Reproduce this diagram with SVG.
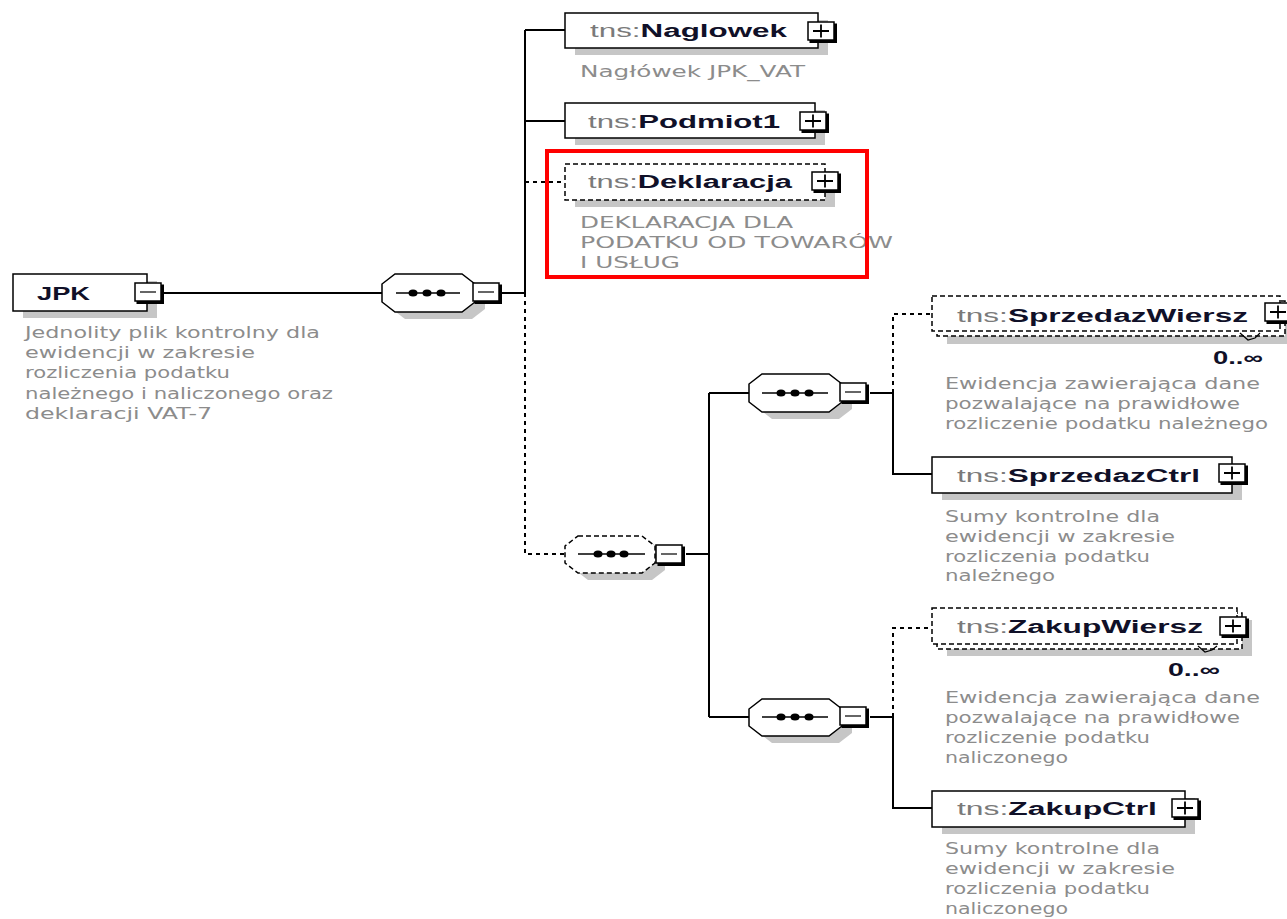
<svg xmlns="http://www.w3.org/2000/svg" width="1287" height="919" viewBox="0 0 1287 919">
<style>
.bg{fill:#fff}
.box{fill:#fff;stroke:#000;stroke-width:1.5}
.dbox{fill:#fff;stroke:#000;stroke-width:1.5;stroke-dasharray:5 3}
.shadow{fill:#c6c6c6}
.conn{fill:none;stroke:#000;stroke-width:2}
.dash{stroke-dasharray:4 4}
.title{font-family:"Liberation Sans",Arial,sans-serif;font-size:18px;font-weight:bold;fill:#101028}
.pfx{font-weight:normal;fill:#7a7a7a}
.desc{font-family:"DejaVu Sans",Verdana,sans-serif;font-size:15px;fill:#8c8c8c}
.mult{font-family:"Liberation Sans",Arial,sans-serif;font-size:18px;font-weight:bold;fill:#101028}
.hl{fill:none;stroke:#ff0000;stroke-width:4}
.inner{stroke:#000;stroke-width:1.5;fill:none}
</style>
<defs>
<g id="minus">
<rect x="0" y="0" width="26" height="18" fill="#fff" stroke="#000" stroke-width="1.5"/>
<path d="M27.5,1.5 V19.5 H1.5" fill="none" stroke="#000" stroke-width="3"/>
<path d="M5,9 H21" stroke="#333" stroke-width="1.5"/>
</g>
<g id="plus">
<rect x="0" y="0" width="26" height="18" fill="#fff" stroke="#000" stroke-width="1.5"/>
<path d="M27.5,1.5 V19.5 H1.5" fill="none" stroke="#000" stroke-width="3"/>
<path d="M5,9 H21 M13,2.5 V15.5" stroke="#000" stroke-width="1.8"/>
</g>
</defs>
<rect class="bg" x="0" y="0" width="1287" height="919"/>

<g id="connectors">
<path class="conn" d="M163,293 H383"/>
<path class="conn" d="M502,293 H525 M525,30 V293 M525,30 H565 M525,121 H565"/>
<path class="conn dash" d="M525,182 H565 M525,293 V554 H565"/>
<path class="conn" d="M686,554 H709 M709,393 V717 M709,393 H749 M709,717 H749"/>
<path class="conn" d="M870,393 H893 V474 H932"/>
<path class="conn dash" d="M893,393 V314 H932"/>
<path class="conn" d="M870,717 H893 V808 H932"/>
<path class="conn dash" d="M893,717 V628 H932"/>
</g>

<g id="node-jpk">
<rect class="shadow" x="23" y="281" width="134" height="37"/>
<rect class="box" x="13" y="274" width="134" height="37"/>
<text class="title" x="37" y="300" textLength="53" lengthAdjust="spacingAndGlyphs">JPK</text>
<use href="#minus" x="135" y="283"/>
<text class="desc" x="25" y="338" textLength="295" lengthAdjust="spacingAndGlyphs">Jednolity plik kontrolny dla</text>
<text class="desc" x="25" y="358" textLength="230" lengthAdjust="spacingAndGlyphs">ewidencji w zakresie</text>
<text class="desc" x="25" y="378" textLength="205" lengthAdjust="spacingAndGlyphs">rozliczenia podatku</text>
<text class="desc" x="25" y="399" textLength="308" lengthAdjust="spacingAndGlyphs">należnego i naliczonego oraz</text>
<text class="desc" x="25" y="419" textLength="187" lengthAdjust="spacingAndGlyphs">deklaracji VAT-7</text>
</g>

<g id="seq-main">
<polygon class="shadow" points="405,281 472,281 485,291 485,309 472,319 405,319 392,309 392,291"/>
<polygon class="box" points="395,274 462,274 475,284 475,302 462,312 395,312 382,302 382,284"/>
<path class="inner" d="M396,293 H460"/>
<ellipse cx="413" cy="293" rx="4.5" ry="3.5"/>
<ellipse cx="427" cy="293" rx="4.5" ry="3.5"/>
<ellipse cx="441" cy="293" rx="4.5" ry="3.5"/>
<use href="#minus" x="473" y="283"/>
</g>

<g id="node-naglowek">
<rect class="shadow" x="575" y="20" width="253" height="35"/>
<rect class="box" x="565" y="13" width="253" height="35"/>
<text class="title" x="590" y="37" textLength="197" lengthAdjust="spacingAndGlyphs"><tspan class="pfx">tns:</tspan>Naglowek</text>
<use href="#plus" x="808" y="22"/>
<text class="desc" x="580" y="77" textLength="225" lengthAdjust="spacingAndGlyphs">Nagłówek JPK_VAT</text>
</g>

<g id="node-podmiot1">
<rect class="shadow" x="575" y="110" width="250" height="35"/>
<rect class="box" x="565" y="103" width="250" height="35"/>
<text class="title" x="588" y="128" textLength="192" lengthAdjust="spacingAndGlyphs"><tspan class="pfx">tns:</tspan>Podmiot1</text>
<use href="#plus" x="800" y="112"/>
</g>

<g id="node-deklaracja">
<rect class="shadow" x="575" y="171" width="260" height="36"/>
<rect class="dbox" x="565" y="164" width="260" height="36"/>
<text class="title" x="588" y="188" textLength="204" lengthAdjust="spacingAndGlyphs"><tspan class="pfx">tns:</tspan>Deklaracja</text>
<use href="#plus" x="812" y="172"/>
<text class="desc" x="580" y="228" textLength="213" lengthAdjust="spacingAndGlyphs">DEKLARACJA DLA</text>
<text class="desc" x="580" y="248" textLength="313" lengthAdjust="spacingAndGlyphs">PODATKU OD TOWARÓW</text>
<text class="desc" x="580" y="268" textLength="100" lengthAdjust="spacingAndGlyphs">I USŁUG</text>
<rect class="hl" x="547" y="151" width="320" height="126"/>
</g>

<g id="seq-optional">
<polygon class="shadow" points="588,543 652,543 665,553 665,570 652,580 588,580 575,570 575,553"/>
<polygon class="dbox" points="578,536 642,536 655,546 655,563 642,573 578,573 565,563 565,546"/>
<path class="inner" d="M578,554 H645"/>
<ellipse cx="598" cy="554" rx="4.5" ry="3.5"/>
<ellipse cx="611" cy="554" rx="4.5" ry="3.5"/>
<ellipse cx="624" cy="554" rx="4.5" ry="3.5"/>
<use href="#minus" x="656" y="545"/>
</g>

<g id="seq-sprzedaz">
<polygon class="shadow" points="772,381 839,381 852,391 852,409 839,419 772,419 759,409 759,391"/>
<polygon class="box" points="762,374 829,374 842,384 842,402 829,412 762,412 749,402 749,384"/>
<path class="inner" d="M762,393 H828"/>
<ellipse cx="781" cy="393" rx="4.5" ry="3.5"/>
<ellipse cx="795" cy="393" rx="4.5" ry="3.5"/>
<ellipse cx="809" cy="393" rx="4.5" ry="3.5"/>
<use href="#minus" x="840" y="383"/>
</g>

<g id="node-sprzedazwiersz">
<rect class="shadow" x="947" y="308" width="345" height="36"/>
<rect class="dbox" x="937" y="301" width="348" height="35"/>
<rect class="dbox" x="932" y="296" width="348" height="35"/>
<text class="title" x="957" y="322" textLength="291" lengthAdjust="spacingAndGlyphs"><tspan class="pfx">tns:</tspan>SprzedazWiersz</text>
<use href="#plus" x="1265" y="303"/>
<path d="M1240,333 L1248,340 L1255,338 L1260,333" fill="none" stroke="#000" stroke-width="1.2"/>
<text class="mult" x="1213" y="364" textLength="50" lengthAdjust="spacingAndGlyphs">0..∞</text>
<text class="desc" x="945" y="389" textLength="315" lengthAdjust="spacingAndGlyphs">Ewidencja zawierająca dane</text>
<text class="desc" x="945" y="409" textLength="295" lengthAdjust="spacingAndGlyphs">pozwalające na prawidłowe</text>
<text class="desc" x="945" y="429" textLength="323" lengthAdjust="spacingAndGlyphs">rozliczenie podatku należnego</text>
</g>

<g id="node-sprzedazctrl">
<rect class="shadow" x="942" y="464" width="300" height="36"/>
<rect class="box" x="932" y="457" width="300" height="36"/>
<text class="title" x="957" y="482" textLength="243" lengthAdjust="spacingAndGlyphs"><tspan class="pfx">tns:</tspan>SprzedazCtrl</text>
<use href="#plus" x="1219" y="464"/>
<text class="desc" x="945" y="522" textLength="215" lengthAdjust="spacingAndGlyphs">Sumy kontrolne dla</text>
<text class="desc" x="945" y="542" textLength="230" lengthAdjust="spacingAndGlyphs">ewidencji w zakresie</text>
<text class="desc" x="945" y="562" textLength="205" lengthAdjust="spacingAndGlyphs">rozliczenia podatku</text>
<text class="desc" x="945" y="581" textLength="110" lengthAdjust="spacingAndGlyphs">należnego</text>
</g>

<g id="seq-zakup">
<polygon class="shadow" points="772,706 839,706 852,716 852,733 839,743 772,743 759,733 759,716"/>
<polygon class="box" points="762,699 829,699 842,709 842,726 829,736 762,736 749,726 749,709"/>
<path class="inner" d="M762,717 H828"/>
<ellipse cx="781" cy="717" rx="4.5" ry="3.5"/>
<ellipse cx="795" cy="717" rx="4.5" ry="3.5"/>
<ellipse cx="809" cy="717" rx="4.5" ry="3.5"/>
<use href="#minus" x="840" y="707"/>
</g>

<g id="node-zakupwiersz">
<rect class="shadow" x="947" y="620" width="305" height="36"/>
<rect class="dbox" x="937" y="613" width="305" height="36"/>
<rect class="dbox" x="932" y="608" width="305" height="36"/>
<text class="title" x="957" y="633" textLength="246" lengthAdjust="spacingAndGlyphs"><tspan class="pfx">tns:</tspan>ZakupWiersz</text>
<use href="#plus" x="1220" y="617"/>
<path d="M1198,646 L1205,652 L1212,650 L1217,646" fill="none" stroke="#000" stroke-width="1.2"/>
<text class="mult" x="1168" y="676" textLength="52" lengthAdjust="spacingAndGlyphs">0..∞</text>
<text class="desc" x="945" y="703" textLength="315" lengthAdjust="spacingAndGlyphs">Ewidencja zawierająca dane</text>
<text class="desc" x="945" y="723" textLength="295" lengthAdjust="spacingAndGlyphs">pozwalające na prawidłowe</text>
<text class="desc" x="945" y="743" textLength="205" lengthAdjust="spacingAndGlyphs">rozliczenie podatku</text>
<text class="desc" x="945" y="763" textLength="123" lengthAdjust="spacingAndGlyphs">naliczonego</text>
</g>

<g id="node-zakupctrl">
<rect class="shadow" x="942" y="798" width="253" height="36"/>
<rect class="box" x="932" y="791" width="253" height="36"/>
<text class="title" x="957" y="815" textLength="200" lengthAdjust="spacingAndGlyphs"><tspan class="pfx">tns:</tspan>ZakupCtrl</text>
<use href="#plus" x="1172" y="799"/>
<text class="desc" x="945" y="854" textLength="215" lengthAdjust="spacingAndGlyphs">Sumy kontrolne dla</text>
<text class="desc" x="945" y="874" textLength="230" lengthAdjust="spacingAndGlyphs">ewidencji w zakresie</text>
<text class="desc" x="945" y="894" textLength="205" lengthAdjust="spacingAndGlyphs">rozliczenia podatku</text>
<text class="desc" x="945" y="914" textLength="123" lengthAdjust="spacingAndGlyphs">naliczonego</text>
</g>
</svg>
